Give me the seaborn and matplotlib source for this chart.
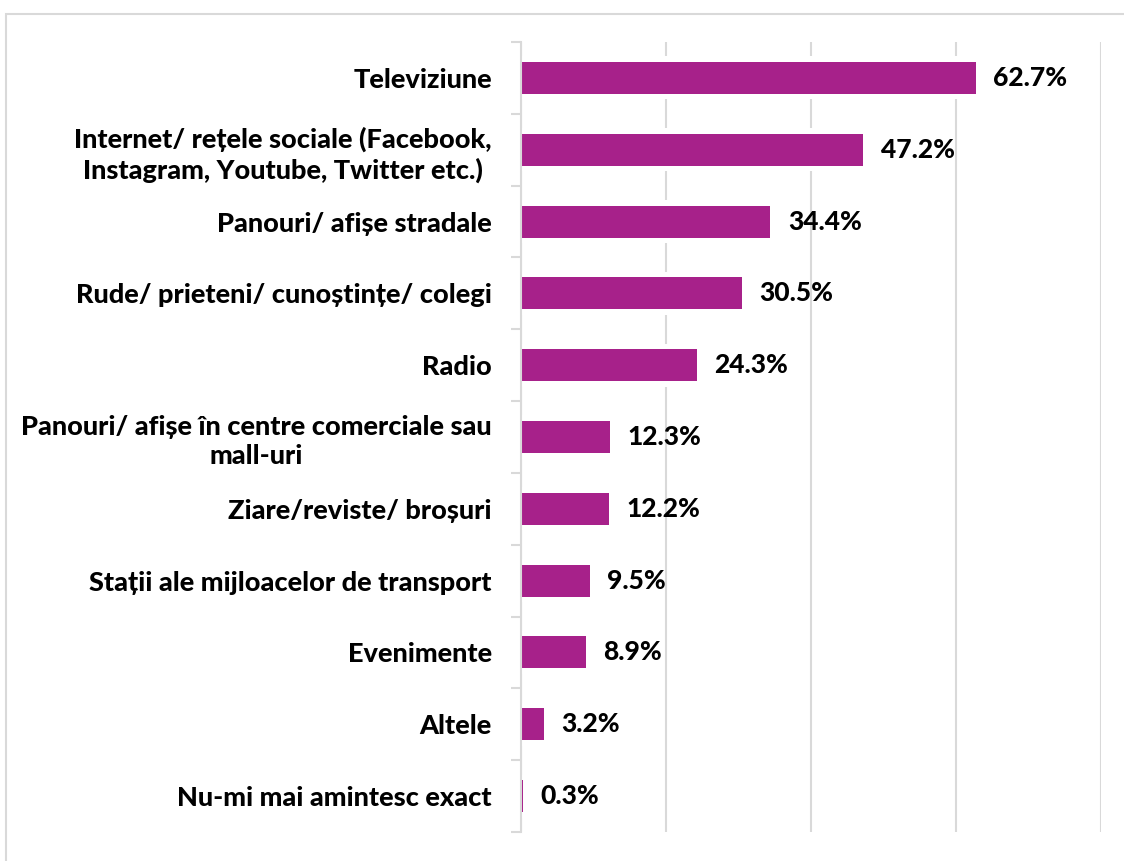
import matplotlib
matplotlib.use("Agg")
import matplotlib.pyplot as plt
import seaborn as sns
import pandas as pd
import numpy as np
from matplotlib.patches import Rectangle

# Surse de informare (procent respondenți)
categories = [
    "Televiziune",
    "Internet/ rețele sociale (Facebook,\nInstagram, Youtube, Twitter etc.)",
    "Panouri/ afișe stradale",
    "Rude/ prieteni/ cunoștințe/ colegi",
    "Radio",
    "Panouri/ afișe în centre comerciale sau\nmall-uri",
    "Ziare/reviste/ broșuri",
    "Stații ale mijloacelor de transport",
    "Evenimente",
    "Altele",
    "Nu-mi mai amintesc exact",
]
values = [62.7, 47.2, 34.4, 30.5, 24.3, 12.3, 12.2, 9.5, 8.9, 3.2, 0.3]
value_labels = ["62.7%", "47.2%", "34.4%", "30.5%", "24.3%", "12.3%",
                "12.2%", "9.5%", "8.9%", "3.2%", "0.3%"]
x_grid = [0, 20, 40, 60, 80]

BAR = "#A7218A"
GRID = "#D9D9D9"
FONT = ["Lato", "DejaVu Sans"]
WEIGHT = 900

sns.set_theme(style="white")
plt.rcParams["font.family"] = FONT

df = pd.DataFrame({"cat": categories, "val": values})

fig = plt.figure(figsize=(11.24, 8.61), dpi=100)
ax = fig.add_axes([521 / 1124, 1 - 832 / 861, (1101 - 521) / 1124, (832 - 42) / 861])

# white halo behind each bar (interrupts the gridlines)
sns.barplot(data=df, y="cat", x="val", orient="h", color="white",
            width=0.60, ax=ax, saturation=1, linewidth=0, zorder=1.5)
sns.barplot(data=df, y="cat", x="val", orient="h", color=BAR,
            width=0.445, ax=ax, saturation=1, linewidth=0, zorder=2)

ax.bar_label(ax.containers[1], labels=value_labels, padding=12.5,
             fontsize=19, fontweight=WEIGHT, color="black", family=FONT)

ax.set_xlim(x_grid[0], x_grid[-1])
ax.set_ylim(len(categories) - 0.5, -0.5)
ax.set_xticks(x_grid)
ax.set_xticklabels([])
ax.tick_params(axis="x", length=0)
ax.grid(axis="x", color=GRID, linewidth=1.5)
ax.grid(axis="y", visible=False)
ax.set_axisbelow(True)

ax.set_yticks(range(len(categories)))
ax.set_yticklabels(categories, fontsize=19.5, fontweight=WEIGHT,
                   color="black", linespacing=1.25, multialignment="center")
ax.tick_params(axis="y", which="major", length=0, pad=21)
ax.set_yticks(np.arange(-0.5, len(categories), 1.0), minor=True)
ax.tick_params(axis="y", which="minor", length=7.2, width=1.5, color=GRID, left=True)

ax.set_xlabel("")
ax.set_ylabel("")
for s in ["top", "right", "bottom"]:
    ax.spines[s].set_visible(False)
ax.spines["left"].set_color(GRID)
ax.spines["left"].set_linewidth(1.5)
ax.spines["left"].set_zorder(3)

# outer chart frame
fig.patches.append(Rectangle((6 / 1124, -0.1), 1.2, 1 - 14 / 861 + 0.1,
                             transform=fig.transFigure, fill=False,
                             edgecolor=GRID, linewidth=1.5))

fig.savefig("out.png", dpi=100)
